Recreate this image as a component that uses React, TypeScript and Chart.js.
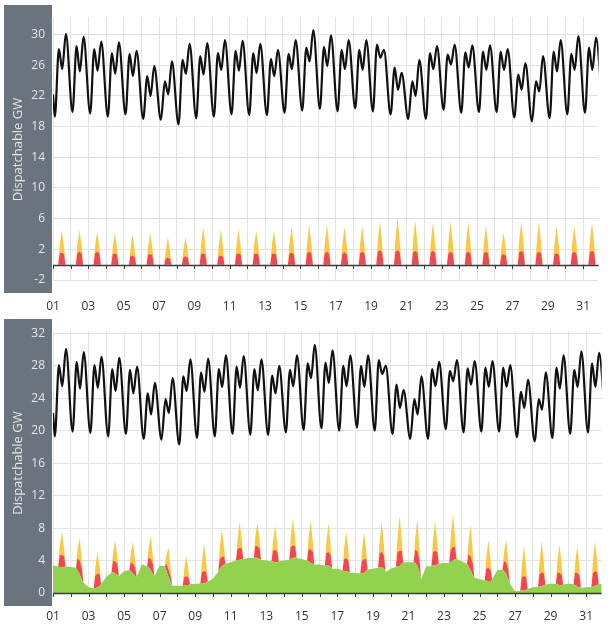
import React, { useEffect, useRef } from 'react';
import { Chart, registerables } from 'chart.js';
Chart.register(...registerables);

// ---------- data ----------
const X_MAX = 741; // hours shown (day 01 00:00 .. day 31 ~21:00)
const dayTickLabels = ['01','02','03','04','05','06','07','08','09','10','11','12','13','14','15','16','17','18','19','20','21','22','23','24','25','26','27','28','29','30','31'];

// demand (black line): hours within each day of the sampled points
const demandHours = [2.5, 8, 12.5, 17.5];
const demandStart = 22.2;
const demandEnd = 19.8;
const demandMin =   [19.3,19.9,19.7,19.3,19.6,19.0,18.9,18.3,19.1,19.3,19.6,19.5,19.5,19.8,20.1,20.3,20.0,20.4,20.0,19.6,19.0,19.0,20.2,19.8,19.9,19.9,19.2,18.7,19.1,19.6,19.8];
const demandPeak1 = [28.1,28.5,28.1,27.6,27.5,24.6,23.9,26.7,27.2,27.6,27.9,27.6,26.8,27.5,28.3,28.4,28.0,28.0,28.7,25.7,23.9,27.6,27.4,27.7,27.8,27.8,24.8,23.9,27.8,27.5,28.3];
const demandDip =   [25.5,25.2,25.3,24.9,24.6,22.0,22.2,24.9,24.8,25.4,25.3,25.0,24.6,25.5,26.5,25.9,25.5,25.4,27.0,22.8,22.0,25.5,26.1,25.7,25.4,25.4,22.8,22.6,25.2,25.4,25.4];
const demandPeak2 = [30.1,29.7,29.1,29.0,27.9,25.9,26.5,28.8,28.9,29.3,29.2,28.8,28.0,29.3,30.6,29.9,29.3,29.3,28.0,25.0,26.7,28.5,28.7,28.6,28.6,28.1,26.3,27.2,29.3,29.8,29.6];

// generation areas: hours within each day of the sampled points
const areaHours = [0, 7, 9, 12, 15, 17];
const greenByDay = [
  [3.4,3.3,3.2,3.1,3.2,3.3],[3.2,3.1,2.8,2.3,1.6,1.3],[0.7,0.6,0.6,0.7,0.9,1.1],[2.0,2.5,2.6,2.4,2.2,2.1],
  [2.7,2.8,2.7,2.4,2.1,2.0],[3.5,3.3,3.2,2.8,2.3,2.1],[3.4,3.3,2.8,2.0,1.2,0.9],[0.9,0.9,0.9,1.0,1.0,1.1],
  [1.1,1.2,1.2,1.2,1.3,1.4],[1.8,2.6,3.0,3.3,3.5,3.6],[3.8,4.0,4.0,4.1,4.2,4.2],[4.3,4.3,4.4,4.3,4.2,4.1],
  [4.0,3.9,3.9,3.8,3.8,3.9],[4.0,4.1,4.2,4.3,4.4,4.3],[4.2,4.0,3.9,3.7,3.6,3.5],[3.5,3.4,3.4,3.4,3.2,3.0],
  [3.0,2.8,2.7,2.7,2.6,2.5],[2.5,2.4,2.4,2.5,2.7,2.9],[3.0,3.1,3.2,3.2,3.0,2.6],[3.0,3.2,3.3,3.3,3.6,3.8],
  [3.8,3.8,3.7,3.4,2.5,1.7],[3.3,3.3,3.4,3.4,3.5,3.6],[3.7,3.7,3.8,4.0,4.2,4.2],[3.9,3.6,3.3,2.8,2.2,1.9],
  [1.7,1.6,1.5,1.4,1.4,1.7],[2.8,2.9,2.7,2.4,1.6,1.1],[0.25,0.25,0.3,0.3,0.4,0.5],[0.7,0.75,0.8,0.85,0.95,1.05],
  [1.15,1.15,1.1,1.0,0.95,1.05],[1.15,1.1,1.0,0.8,0.7,0.65],[0.7,0.75,0.8,0.9,1.0,1.1],
];
const greenEnd = 1.1;
const red9  = [1.45,1.5,1.5,1.35,1.1,1.25,0.8,1.0,1.35,1.1,1.35,1.35,1.35,1.45,1.5,1.5,1.45,1.5,1.7,1.7,1.6,1.6,1.5,1.5,1.5,1.25,1.6,1.5,1.35,1.5,1.6];
const red12 = [1.6,1.7,1.7,1.5,1.2,1.4,0.9,1.1,1.5,1.2,1.5,1.5,1.5,1.6,1.7,1.7,1.6,1.7,1.9,1.9,1.8,1.8,1.7,1.7,1.7,1.4,1.8,1.7,1.5,1.7,1.8];
const red15 = [1.35,1.45,1.45,1.3,1.0,1.2,0.75,0.95,1.3,1.0,1.3,1.3,1.3,1.35,1.45,1.45,1.35,1.45,1.6,1.6,1.55,1.55,1.45,1.45,1.45,1.2,1.55,1.45,1.3,1.45,1.55];
const yel9  = [1.0,1.0,0.9,0.9,0.95,1.0,0.95,0.9,1.2,1.2,1.1,1.0,1.05,1.15,1.2,1.2,1.15,1.15,1.3,1.5,1.35,1.3,1.4,1.35,1.2,1.0,1.35,1.35,1.2,1.15,1.3];
const yel12 = [2.9,2.8,2.6,2.6,2.7,2.8,2.7,2.5,3.4,3.4,3.1,2.9,3.0,3.3,3.5,3.5,3.3,3.3,3.7,4.3,3.9,3.7,4.0,3.9,3.4,2.8,3.8,3.9,3.5,3.3,3.7];
const yel15 = [0.95,0.95,0.9,0.9,0.9,0.95,0.9,0.85,1.15,1.15,1.05,1.0,1.0,1.1,1.2,1.2,1.1,1.1,1.25,1.45,1.3,1.25,1.35,1.3,1.15,0.95,1.3,1.3,1.2,1.1,1.25];

// ---------- styles ----------
const BAND = '#6b747e';
const BAND_TEXT = '#e4e7ea';
const BLACK = '#111111';
const RED = '#f2474e';
const YELLOW = '#f9c845';
const GREEN = '#92d24f';
const GRID = '#e3e3e3';
const FONT = "'Open Sans', 'DejaVu Sans', sans-serif";

type P = { x: number; y: number };

function buildDemand(): P[] {
  const pts: P[] = [{ x: 0, y: demandStart }];
  demandMin.forEach((_, d) => {
    const vals = [demandMin[d], demandPeak1[d], demandDip[d], demandPeak2[d]];
    demandHours.forEach((h, i) => pts.push({ x: d * 24 + h, y: vals[i] }));
  });
  pts.push({ x: 31 * 24 + 2.5, y: demandEnd });
  return pts;
}

function buildArea(kind: 'green' | 'red' | 'yellow'): P[] {
  const pts: P[] = [];
  greenByDay.forEach((g, d) => {
    areaHours.forEach((h, i) => {
      let y = 0;
      if (kind === 'green') y = g[i];
      else if (kind === 'red') y = h === 9 ? red9[d] : h === 12 ? red12[d] : h === 15 ? red15[d] : 0;
      else y = h === 9 ? yel9[d] : h === 12 ? yel12[d] : h === 15 ? yel15[d] : 0;
      pts.push({ x: d * 24 + h, y });
    });
  });
  pts.push({ x: 31 * 24, y: kind === 'green' ? greenEnd : 0 });
  return pts;
}

const decoPlugin = {
  id: 'deco',
  beforeDraw(chart: any) {
    const { ctx, chartArea } = chart;
    ctx.save();
    ctx.fillStyle = BAND;
    ctx.fillRect(0, chartArea.top - 12, chartArea.left - 1, chartArea.bottom - chartArea.top + 25);
    ctx.translate(14, (chartArea.top + chartArea.bottom) / 2 + 1);
    ctx.rotate(-Math.PI / 2);
    ctx.font = `13px ${FONT}`;
    ctx.fillStyle = BAND_TEXT;
    ctx.textAlign = 'center';
    ctx.textBaseline = 'middle';
    ctx.fillText('Dispatchable GW', 0, 0);
    ctx.restore();
  },
  afterDatasetsDraw(chart: any) {
    const { ctx, chartArea, scales } = chart;
    const y0 = Math.round(scales.y.getPixelForValue(0)) + 0.5;
    ctx.save();
    ctx.strokeStyle = '#3a3a3a';
    ctx.lineWidth = 1.3;
    ctx.beginPath();
    ctx.moveTo(chartArea.left, y0);
    ctx.lineTo(chartArea.right, y0);
    ctx.stroke();
    ctx.lineWidth = 1;
    ctx.beginPath();
    scales.x.ticks.forEach((t: any) => {
      const x = Math.round(scales.x.getPixelForValue(t.value)) + 0.5;
      ctx.moveTo(x, y0);
      ctx.lineTo(x, y0 + 3.5);
    });
    ctx.stroke();
    ctx.restore();
  },
};

function makeConfig(withGreen: boolean, yMin: number, yMax: number, labelBase: number, xPad: number) {
  const datasets: any[] = [];
  if (withGreen) {
    datasets.push({ data: buildArea('green'), backgroundColor: GREEN, borderWidth: 0, fill: 'origin', stack: 'gen', pointRadius: 0, tension: 0 });
  }
  datasets.push({ data: buildArea('red'), backgroundColor: RED, borderWidth: 0, fill: withGreen ? '-1' : 'origin', stack: 'gen', pointRadius: 0, tension: 0 });
  datasets.push({ data: buildArea('yellow'), backgroundColor: YELLOW, borderWidth: 0, fill: '-1', stack: 'gen', pointRadius: 0, tension: 0 });
  datasets.push({ data: buildDemand(), borderColor: BLACK, borderWidth: 2.2, fill: false, stack: 'demand', pointRadius: 0, cubicInterpolationMode: 'monotone' });

  const isLabeled = (v: number) => Math.abs(((v - labelBase) % 4 + 4) % 4) < 1e-6;
  return {
    type: 'line',
    data: { datasets },
    plugins: [decoPlugin],
    options: {
      animation: false,
      responsive: false,
      events: [],
      layout: { padding: { top: 17, right: 0, bottom: 0, left: 0 } },
      plugins: { legend: { display: false }, tooltip: { enabled: false } },
      scales: {
        x: {
          type: 'linear',
          min: 0,
          max: X_MAX,
          afterBuildTicks: (s: any) => { s.ticks = dayTickLabels.map((_, i) => ({ value: i * 24 })); },
          afterFit: (s: any) => { s.height = 32; },
          grid: { color: GRID, drawTicks: false, lineWidth: 1 },
          border: { display: false },
          ticks: {
            autoSkip: false, maxRotation: 0, padding: xPad, color: '#333333',
            font: { size: 12, family: FONT },
            callback: (v: number) => { const i = Math.round(v / 24); return i % 2 === 0 ? dayTickLabels[i] : ''; },
          },
        },
        y: {
          type: 'linear',
          stacked: true,
          min: yMin,
          max: yMax,
          afterBuildTicks: (s: any) => { const t = []; for (let v = Math.ceil(yMin / 2) * 2; v <= yMax; v += 2) t.push({ value: v }); s.ticks = t; },
          afterFit: (s: any) => { s.width = 49; },
          grid: { color: GRID, drawTicks: false, lineWidth: 1 },
          border: { display: false, dash: (c: any) => (c.tick && !isLabeled(c.tick.value) ? [3, 3] : []) },
          ticks: {
            padding: 8, color: BAND_TEXT, font: { size: 12, family: FONT },
            callback: (v: number) => (isLabeled(v) ? String(v) : ''),
          },
        },
      },
    },
  };
}

function Panel(props: { top: number; height: number; withGreen: boolean; yMin: number; yMax: number; labelBase: number; xPad: number }) {
  const ref = useRef<HTMLCanvasElement>(null);
  useEffect(() => {
    const chart = new Chart(ref.current as HTMLCanvasElement, makeConfig(props.withGreen, props.yMin, props.yMax, props.labelBase, props.xPad) as any);
    return () => chart.destroy();
  }, []);
  return (
    <canvas ref={ref} width={605} height={props.height}
      style={{ position: 'absolute', left: 4, top: props.top, width: 605, height: props.height }} />
  );
}

export default function App() {
  return (
    <div style={{ position: 'fixed', left: 0, top: 0, width: 609, height: 630, background: '#ffffff', overflow: 'hidden' }}>
      <Panel top={0} height={312} withGreen={false} yMin={-2} yMax={32.3} labelBase={-2} xPad={19} />
      <Panel top={314} height={311} withGreen={true} yMin={0} yMax={32.3} labelBase={0} xPad={16} />
    </div>
  );
}
